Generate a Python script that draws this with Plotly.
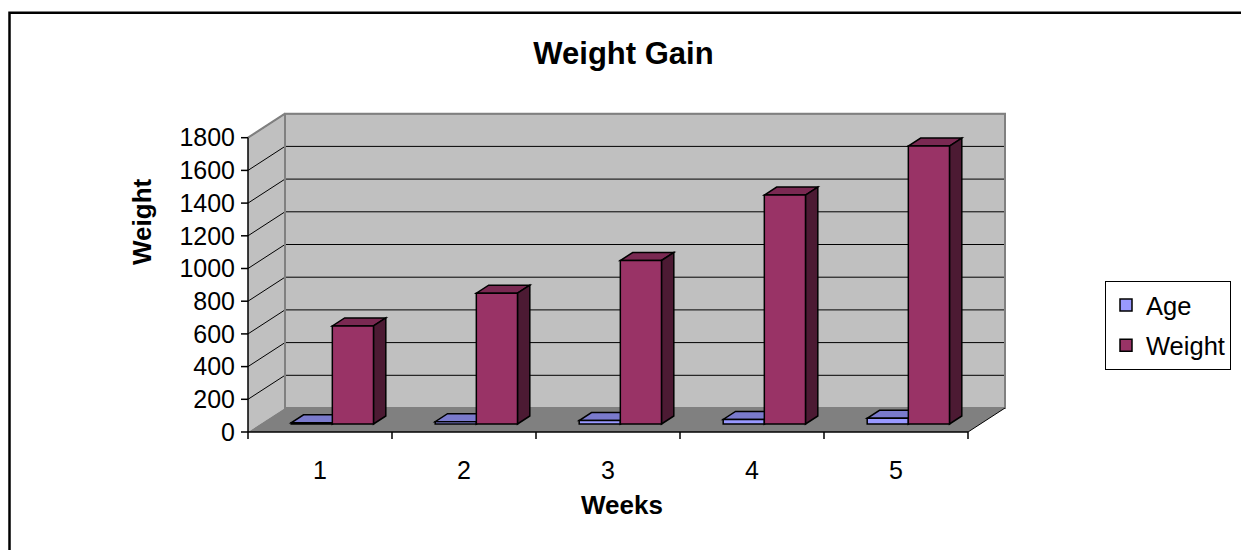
import plotly.graph_objects as go

# ---- data -------------------------------------------------------------
weeks = [1, 2, 3, 4, 5]
age = [7, 14, 21, 28, 35]
weight = [600, 800, 1000, 1400, 1700]
series_names = ["Age", "Weight"]
value_ticks = [0, 200, 400, 600, 800, 1000, 1200, 1400, 1600, 1800]

# ---- page geometry (pixels) -------------------------------------------
FIG_W, FIG_H = 1241, 550
PLOT_L, PLOT_R, PLOT_T, PLOT_B = 236, 1012, 108, 446
X0_PX = 248              # pixel of the first category edge
CAT_PX = 144             # pixels per category
Y0_PX = 432              # pixel of value 0 on the front plane
VAL_PX = 294.3 / 1800    # pixels per value unit
DEPTH_PX = (37, 24)      # oblique offset from front plane to back wall

x_lo = 0.5 - (X0_PX - PLOT_L) / CAT_PX
x_hi = 0.5 + (PLOT_R - X0_PX) / CAT_PX
y_lo = -(PLOT_B - Y0_PX) / VAL_PX
y_hi = (Y0_PX - PLOT_T) / VAL_PX

DX = DEPTH_PX[0] / CAT_PX
DY = DEPTH_PX[1] / VAL_PX


def px_x(p):
    return (p - PLOT_L) / (PLOT_R - PLOT_L)


def px_y(p):
    return (PLOT_B - p) / (PLOT_B - PLOT_T)


def pt(x, y, d):
    """Project a point at depth d (0 = front, 1 = back wall)."""
    return x + d * DX, y + d * DY


def path(points, close=True):
    s = "M " + " L ".join(f"{x:.5f},{y:.5f}" for x, y in points)
    return s + (" Z" if close else "")


FONT = "Arial, Liberation Sans, sans-serif"
WALL = "#C0C0C0"
FLOOR = "#808080"
EDGE = "#808080"
COLORS = {"Age": ("#9999FF", "#7A7ACC", "#4C4C80"),
          "Weight": ("#993366", "#7A2952", "#4C1A33")}

xa = weeks[0] - 0.5
xb = weeks[-1] + 0.5
ytop = value_ticks[-1]

shapes = []


def add(p, fill=None, color=None, width=0, layer="below", close=True):
    shapes.append(dict(type="path", xref="x", yref="y", path=path(p, close),
                       fillcolor=fill if fill else "rgba(0,0,0,0)",
                       line=dict(color=color if color else "rgba(0,0,0,0)",
                                 width=width),
                       layer=layer))


# walls and floor
add([pt(xa, 0, 0), pt(xa, 0, 1), pt(xa, ytop, 1), pt(xa, ytop, 0)], fill=WALL)
add([pt(xa, 0, 1), pt(xb, 0, 1), pt(xb, ytop, 1), pt(xa, ytop, 1)], fill=WALL)
add([pt(xa, 0, 0), pt(xb, 0, 0), pt(xb, 0, 1), pt(xa, 0, 1)], fill=FLOOR)

# gridlines across side wall and back wall
for t in value_ticks:
    if t > 0:
        add([pt(xa, t, 0), pt(xa, t, 1), pt(xb, t, 1)], color="black",
            width=1, close=False)

# wall edges
add([pt(xa, 0, 1), pt(xb, 0, 1), pt(xb, ytop, 1), pt(xa, ytop, 1)],
    color=EDGE, width=2)
add([pt(xa, ytop, 0), pt(xa, ytop, 1)], color=EDGE, width=2, close=False)
add([pt(xb, 0, 0), pt(xb, 0, 1)], color="black", width=1, close=False)

# front axes, tick marks
add([pt(xa, 0, 0), pt(xa, ytop, 0)], color="black", width=1.5,
    close=False, layer="above")
add([pt(xa, 0, 0), pt(xb, 0, 0)], color="black", width=1.5,
    close=False, layer="above")
tick_dx = 7 / CAT_PX
tick_dy = 7 / VAL_PX
for t in value_ticks:
    add([(xa - tick_dx, t), (xa, t)], color="black", width=1.5,
        close=False, layer="above")
for e in [w - 0.5 for w in weeks] + [xb]:
    add([(e, 0), (e, -tick_dy)], color="black", width=1.5,
        close=False, layer="above")

# 3-D columns: front faces are bar traces, tops and sides are shapes
bar_w = 1 / 3.5
d0, d1 = 1 / 3, 2 / 3
offsets = {"Age": -bar_w, "Weight": 0.0}
values = {"Age": age, "Weight": weight}

for i, c in enumerate(weeks):
    for name in series_names:
        v = values[name][i]
        x0 = c + offsets[name]
        x1 = x0 + bar_w
        _, top, side = COLORS[name]
        add([pt(x0, v, d0), pt(x1, v, d0), pt(x1, v, d1), pt(x0, v, d1)],
            fill=top, color="black", width=1.5)
        add([pt(x1, 0, d0), pt(x1, v, d0), pt(x1, v, d1), pt(x1, 0, d1)],
            fill=side, color="black", width=1.5)

fig = go.Figure()
for name in series_names:
    fig.add_trace(go.Bar(
        x=weeks, y=values[name], name=name, legendgroup=name,
        base=d0 * DY, offset=offsets[name] + d0 * DX, width=bar_w,
        marker=dict(color=COLORS[name][0], line=dict(color="black", width=1.5)),
    ))

# outer chart frame
shapes.append(dict(type="rect", xref="paper", yref="paper",
                   x0=px_x(9.5), x1=px_x(1300), y0=px_y(12.7), y1=px_y(600),
                   line=dict(color="black", width=2.5), layer="above"))

fig.update_layout(
    width=FIG_W, height=FIG_H,
    margin=dict(l=PLOT_L, r=FIG_W - PLOT_R, t=PLOT_T, b=FIG_H - PLOT_B,
                autoexpand=False),
    paper_bgcolor="white", plot_bgcolor="rgba(0,0,0,0)",
    barmode="overlay",
    shapes=shapes,
    font=dict(family=FONT, color="black"),
    title=dict(text="Weight Gain", x=623.5 / FIG_W, xanchor="center",
               y=1 - 53 / FIG_H, yanchor="middle", xref="container",
               yref="container",
               font=dict(family=FONT, size=31, weight="bold", color="black")),
    xaxis=dict(range=[x_lo, x_hi], tickvals=weeks,
               ticktext=[str(w) for w in weeks], ticks="", showgrid=False,
               zeroline=False, showline=False, tickfont=dict(size=25),
               ticklabelstandoff=7),
    yaxis=dict(range=[y_lo, y_hi], tickvals=value_ticks, ticks="",
               showgrid=False, zeroline=False, showline=False,
               tickfont=dict(size=25)),
    legend=dict(x=px_x(1105), y=px_y(281), xanchor="left", yanchor="top",
                bordercolor="black", borderwidth=1, bgcolor="white",
                traceorder="grouped", tracegroupgap=4,
                font=dict(size=25.5, family=FONT)),
    annotations=[
        dict(text="Weight", xref="paper", yref="paper", x=px_x(142),
             y=px_y(222), xanchor="center", yanchor="middle",
             textangle=-90, showarrow=False,
             font=dict(size=26, weight="bold")),
        dict(text="Weeks", xref="paper", yref="paper", x=px_x(622),
             y=px_y(505), xanchor="center", yanchor="middle",
             showarrow=False, font=dict(size=26, weight="bold")),
    ],
)

fig.write_html("out.html")
